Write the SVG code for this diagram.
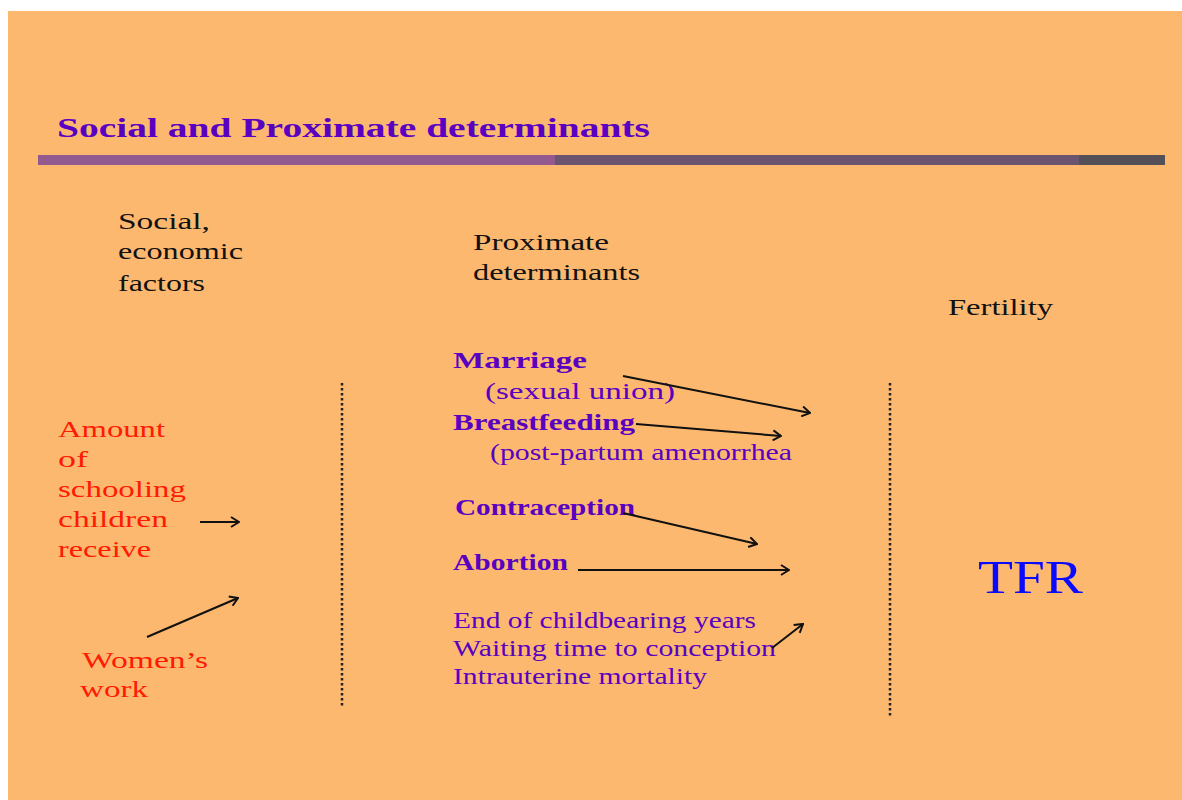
<svg xmlns="http://www.w3.org/2000/svg" width="1182" height="800" viewBox="0 0 1182 800">
<style>
text{font-family:"Liberation Serif","Times New Roman",serif}
.head{font-size:24px;fill:#111}
.pb{font-size:23px;font-weight:bold;fill:#5a00c0}
.p{font-size:23px;fill:#5a00c0}
.r{font-size:24px;fill:#ff1a00}
.arr{stroke:#111;stroke-width:2;fill:none;marker-end:url(#ah)}
.dot{stroke:#222;stroke-width:2.5;stroke-dasharray:2.5 2.5}
</style>
<defs>
<marker id="ah" viewBox="0 0 12 12" refX="11" refY="6" markerWidth="12" markerHeight="12" markerUnits="userSpaceOnUse" orient="auto">
<polyline points="3,1 11,6 3,11" fill="none" stroke="#111" stroke-width="2"/>
</marker>
</defs>
<rect x="0" y="0" width="1182" height="800" fill="#ffffff"/>
<rect x="8" y="11" width="1174" height="789" fill="#fdb870"/>
<g id="title">
<text x="57" y="137" font-size="28" font-weight="bold" fill="#5a00c0" textLength="593" lengthAdjust="spacingAndGlyphs">Social and Proximate determinants</text>
<rect x="38" y="155" width="517" height="10" fill="#935a8f"/>
<rect x="555" y="155" width="524" height="10" fill="#6b5470"/>
<rect x="1079" y="155" width="86" height="10" fill="#545058"/>
</g>
<g id="col-social">
<text class="head" x="118" y="229" textLength="92" lengthAdjust="spacingAndGlyphs">Social,</text>
<text class="head" x="118" y="259" textLength="125" lengthAdjust="spacingAndGlyphs">economic</text>
<text class="head" x="118" y="291" textLength="87" lengthAdjust="spacingAndGlyphs">factors</text>
</g>
<g id="col-proximate">
<text class="head" x="473" y="250" textLength="136" lengthAdjust="spacingAndGlyphs">Proximate</text>
<text class="head" x="473" y="280" textLength="167" lengthAdjust="spacingAndGlyphs">determinants</text>
</g>
<g id="col-fertility">
<text class="head" x="948" y="315" textLength="105" lengthAdjust="spacingAndGlyphs">Fertility</text>
</g>
<g id="node-schooling">
<text class="r" x="58" y="437" textLength="107" lengthAdjust="spacingAndGlyphs">Amount</text>
<text class="r" x="58" y="467" textLength="30" lengthAdjust="spacingAndGlyphs">of</text>
<text class="r" x="58" y="497" textLength="128" lengthAdjust="spacingAndGlyphs">schooling</text>
<text class="r" x="58" y="527" textLength="110" lengthAdjust="spacingAndGlyphs">children</text>
<text class="r" x="58" y="557" textLength="93" lengthAdjust="spacingAndGlyphs">receive</text>
</g>
<g id="node-work">
<text class="r" x="82" y="668" textLength="126" lengthAdjust="spacingAndGlyphs">Women’s</text>
<text class="r" x="80" y="697" textLength="68" lengthAdjust="spacingAndGlyphs">work</text>
</g>
<g id="node-marriage">
<text class="pb" x="453" y="368" textLength="134" lengthAdjust="spacingAndGlyphs">Marriage</text>
<text class="p" x="485" y="399" textLength="190" lengthAdjust="spacingAndGlyphs">(sexual union)</text>
</g>
<g id="node-breastfeeding">
<text class="pb" x="453" y="430" textLength="182" lengthAdjust="spacingAndGlyphs">Breastfeeding</text>
<text class="p" x="490" y="460" textLength="302" lengthAdjust="spacingAndGlyphs">(post-partum amenorrhea</text>
</g>
<g id="node-contraception">
<text class="pb" x="455" y="515" textLength="180" lengthAdjust="spacingAndGlyphs">Contraception</text>
</g>
<g id="node-abortion">
<text class="pb" x="453" y="570" textLength="115" lengthAdjust="spacingAndGlyphs">Abortion</text>
</g>
<g id="node-other">
<text class="p" x="453" y="628" textLength="303" lengthAdjust="spacingAndGlyphs">End of childbearing years</text>
<text class="p" x="453" y="656" textLength="323" lengthAdjust="spacingAndGlyphs">Waiting time to conception</text>
<text class="p" x="453" y="684" textLength="254" lengthAdjust="spacingAndGlyphs">Intrauterine mortality</text>
</g>
<g id="node-tfr">
<text x="978" y="593" font-size="46" fill="#0a0aff" textLength="105" lengthAdjust="spacingAndGlyphs">TFR</text>
</g>
<g id="connectors">
<line class="dot" x1="342" y1="383" x2="342" y2="706"/>
<line class="dot" x1="890" y1="383" x2="890" y2="716"/>
<line class="arr" x1="623" y1="376" x2="810" y2="413"/>
<line class="arr" x1="636" y1="424" x2="781" y2="436"/>
<line class="arr" x1="623" y1="513" x2="757" y2="544"/>
<line class="arr" x1="578" y1="570" x2="789" y2="570"/>
<line class="arr" x1="772" y1="648" x2="803" y2="624"/>
<line class="arr" x1="200" y1="522" x2="239" y2="522"/>
<line class="arr" x1="147" y1="637" x2="238" y2="598"/>
</g>
</svg>
